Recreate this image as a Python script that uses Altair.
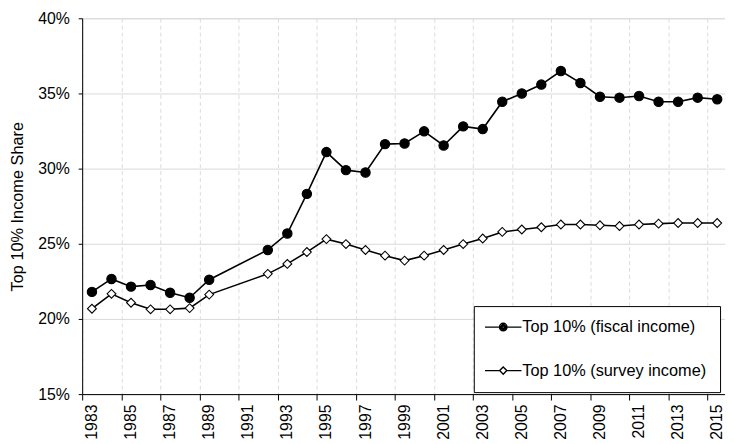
import altair as alt
import pandas as pd

years = [1983, 1984, 1985, 1986, 1987, 1988, 1989,
         1992, 1993, 1994, 1995, 1996, 1997, 1998, 1999, 2000, 2001, 2002, 2003,
         2004, 2005, 2006, 2007, 2008, 2009, 2010, 2011, 2012, 2013, 2014, 2015]
fiscal = [21.8, 22.66, 22.15, 22.26, 21.74, 21.41, 22.61,
          24.59, 25.68, 28.32, 31.1, 29.9, 29.74, 31.63, 31.67, 32.48, 31.54, 32.81, 32.63,
          34.45, 35.0, 35.59, 36.49, 35.7, 34.78, 34.72, 34.83, 34.45, 34.45, 34.72, 34.61]
survey = [20.68, 21.67, 21.08, 20.64, 20.64, 20.72, 21.62,
          23.0, 23.66, 24.45, 25.31, 24.98, 24.59, 24.21, 23.88, 24.21, 24.59, 24.98, 25.35,
          25.79, 25.95, 26.1, 26.28, 26.28, 26.23, 26.18, 26.28, 26.34, 26.38, 26.38, 26.38]
series_names = ["Top 10% (fiscal income)", "Top 10% (survey income)"]
y_ticks = [15, 20, 25, 30, 35, 40]
x_ticks = [1982.5 + 2 * i for i in range(17)]

rows = []
for yr, f, s in zip(years, fiscal, survey):
    rows.append({"year": yr, "series": series_names[0], "share": f})
    rows.append({"year": yr, "series": series_names[1], "share": s})
df = pd.DataFrame(rows)

FONT = "Liberation Sans"

x_enc = alt.X(
    "year:Q",
    scale=alt.Scale(domain=[1982.5, 2015.4], nice=False, zero=False),
    axis=alt.Axis(
        values=x_ticks,
        labelExpr="format(datum.value + 0.5, 'd')",
        labelOffset=9.5,
        labelAngle=270,
        labelFlush=False,
        labelOverlap=False,
        labelFontSize=16,
        labelFont=FONT,
        labelColor="black",
        labelPadding=4,
        tickSize=6,
        tickColor="black",
        domainColor="black",
        grid=True,
        gridColor="#dcdcdc",
        gridDash=[4, 3],
        title=None,
    ),
)
y_enc = alt.Y(
    "share:Q",
    scale=alt.Scale(domain=[15, 40], nice=False, zero=False),
    axis=alt.Axis(
        values=y_ticks,
        labelExpr="datum.value + '%'",
        labelFontSize=16,
        labelFont=FONT,
        labelColor="black",
        labelPadding=9,
        tickSize=4,
        tickColor="black",
        domainColor="black",
        gridColor="#d9d9d9",
        title="Top 10% Income Share",
        titleFont=FONT,
        titleFontSize=16.5,
        titleFontWeight="normal",
        titleColor="black",
        titlePadding=12,
    ),
)

lines = alt.Chart(df).mark_line(color="black", strokeWidth=1.6).encode(
    x=x_enc, y=y_enc, detail="series:N"
)

points = alt.Chart(df).mark_point(filled=True, stroke="black", strokeWidth=1.1, opacity=1).encode(
    x=x_enc,
    y=y_enc,
    shape=alt.Shape("series:N", scale=alt.Scale(domain=series_names, range=["circle", "diamond"]), legend=None),
    fill=alt.Fill("series:N", scale=alt.Scale(domain=series_names, range=["black", "white"]), legend=None),
    size=alt.Size("series:N", scale=alt.Scale(domain=series_names, range=[90, 80]), legend=None),
)

# legend glyphs: a line with a solid dot (concentric rings) / an open diamond
circle_path = (
    "M-4.1,0L-1,0M1,0L4.1,0"
    "M-0.85,0A0.85,0.85 0 1,0 0.85,0A0.85,0.85 0 1,0 -0.85,0"
    "M-0.55,0A0.55,0.55 0 1,0 0.55,0A0.55,0.55 0 1,0 -0.55,0"
    "M-0.25,0A0.25,0.25 0 1,0 0.25,0A0.25,0.25 0 1,0 -0.25,0"
)
diamond_path = "M-4.1,0L-0.8,0M0.8,0L4.1,0M-0.8,0L0,-0.8L0.8,0L0,0.8Z"

legend = alt.Legend(
    title=None,
    orient="none",
    legendX=396,
    legendY=291,
    strokeColor="black",
    fillColor="white",
    padding=13,
    rowPadding=27,
    labelFont=FONT,
    labelFontSize=16.5,
    labelColor="black",
    labelLimit=0,
    labelOffset=11,
    symbolOffset=8.5,
    symbolSize=81,
    symbolStrokeColor="black",
    symbolFillColor="transparent",
    symbolStrokeWidth=1.4,
    symbolOpacity=1,
)

legend_layer = alt.Chart(df).mark_point(
    filled=False, opacity=0, size=81, color="black", strokeWidth=1.4
).encode(
    x=x_enc,
    y=y_enc,
    shape=alt.Shape("series:N", scale=alt.Scale(domain=series_names, range=[circle_path, diamond_path]), legend=legend),
)

chart = (
    alt.layer(lines, points, legend_layer)
    .resolve_scale(shape="independent", fill="independent", size="independent")
    .properties(
        width=650,
        height=380,
        autosize=alt.AutoSizeParams(type="none"),
        padding={"left": 75, "top": 8, "right": 0, "bottom": 44},
    )
    .configure_view(stroke="black", strokeWidth=1)
    .configure(font=FONT)
)

chart.save("out.html", embed_options={"renderer": "svg", "actions": False})
